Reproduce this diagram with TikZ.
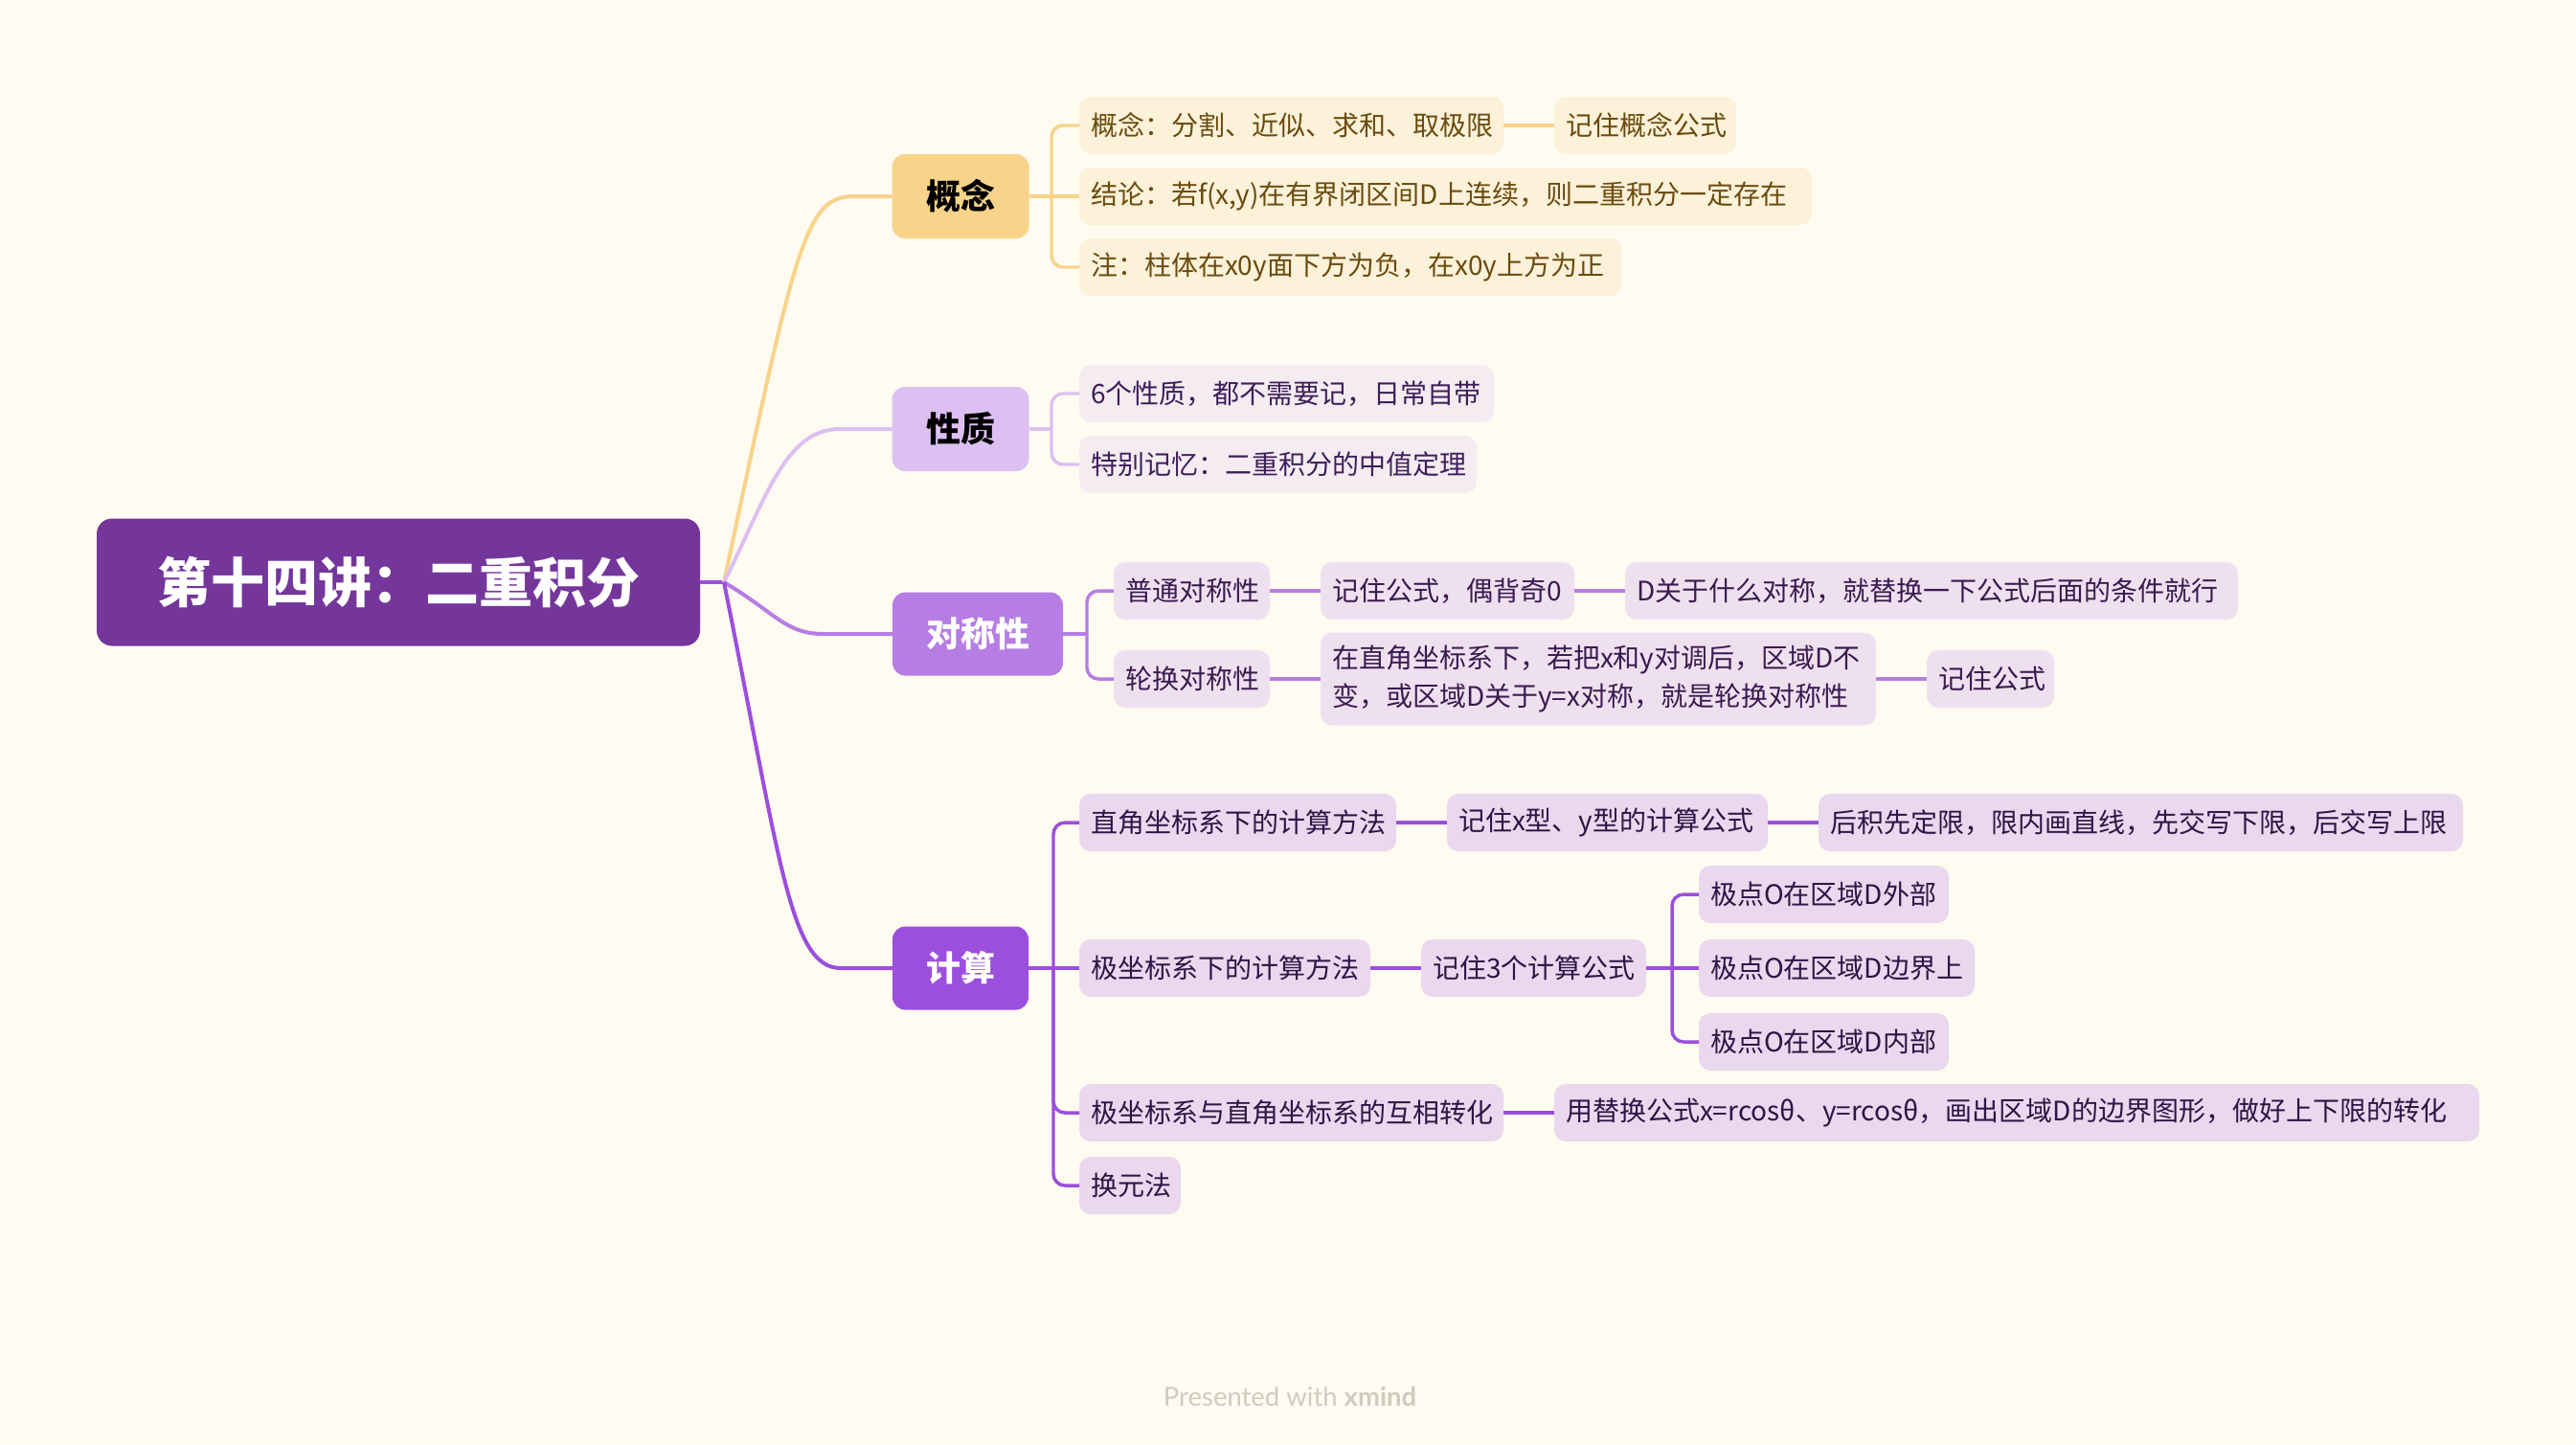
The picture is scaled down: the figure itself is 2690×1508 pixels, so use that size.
\documentclass[tikz,border=0pt]{standalone}
\usepackage{fontspec}
\setmainfont{Noto Sans CJK SC}
\newfontfamily\footfont{Lato}
\newdimen\pxu \pxu=0.375pt
\newcommand\kt[2]{\makebox[\dimexpr#1\pxu-24\pxu\relax][l]{#2}}
\definecolor{bgc}{HTML}{FFFBF0}
\definecolor{rootc}{HTML}{74369B}
\definecolor{gA}{HTML}{F8D38A}
\definecolor{gB}{HTML}{DCC0F2}
\definecolor{gC}{HTML}{B67DE5}
\definecolor{gD}{HTML}{9C4EDD}
\definecolor{kA}{HTML}{FCF1D9}
\definecolor{kB}{HTML}{F5ECF1}
\definecolor{kC}{HTML}{EFE0EF}
\definecolor{kD}{HTML}{EAD8EE}
\definecolor{tA}{HTML}{6B4B0E}
\definecolor{tB}{HTML}{3E1E5A}
\definecolor{tC}{HTML}{3A1A50}
\definecolor{tD}{HTML}{2F1446}
\definecolor{footc}{HTML}{CFCBBE}
\tikzset{
  every node/.style={inner sep=0pt, outer sep=0pt},
  rootbox/.style={fill=rootc, text=white, rounded corners=6pt, font=\bfseries\fontsize{21}{25}\selectfont},
  mainbox/.style={rounded corners=5pt, font=\bfseries\fontsize{13.5}{16}\selectfont},
  kid/.style={rounded corners=4.5pt, anchor=west, inner xsep=12\pxu, minimum height=60*\pxu, font=\fontsize{10.5}{15}\selectfont},
  kidA/.style={kid, fill=kA, text=tA},
  kidB/.style={kid, fill=kB, text=tB},
  kidC/.style={kid, fill=kC, text=tC},
  kidD/.style={kid, fill=kD, text=tD},
  bigline/.style={line width=1.5pt},
  lnA/.style={line width=1.3pt, draw=gA, rounded corners=4.5pt},
  lnB/.style={line width=1.3pt, draw=gB, rounded corners=4.5pt},
  lnC/.style={line width=1.3pt, draw=gC, rounded corners=4.5pt},
  lnD/.style={line width=1.3pt, draw=gD, rounded corners=4.5pt},
}
\begin{document}
\begin{tikzpicture}[x=0.375pt, y=-0.375pt]
\fill[bgc] (0,0) rectangle (2690,1508);
\useasboundingbox (0,0) rectangle (2690,1508);

% root and main branches
\node[rootbox, minimum width=630*\pxu, minimum height=133*\pxu] (root) at (416,608) {第十四讲：二重积分};
\node[mainbox, fill=gA, text=black, minimum width=143*\pxu, minimum height=88*\pxu] (bA) at (1003,205) {概念};
\node[mainbox, fill=gB, text=black, minimum width=143*\pxu, minimum height=88*\pxu] (bB) at (1003,448) {性质};
\node[mainbox, fill=gC, text=white, minimum width=178*\pxu, minimum height=87*\pxu] (bC) at (1021,662) {对称性};
\node[mainbox, fill=gD, text=white, minimum width=142*\pxu, minimum height=87*\pxu] (bD) at (1003,1011) {计算};

% 概念 children
\node[kidA] (a1) at (1127,131) {\kt{443}{概念：分割、近似、求和、取极限}};
\node[kidA] (a2) at (1623,131) {\kt{190}{记住概念公式}};
\node[kidA] (a3) at (1127,205) {\kt{765}{结论：若f(x,y)在有界闭区间D上连续，则二重积分一定存在}};
\node[kidA] (a4) at (1127,279) {\kt{566}{注：柱体在x0y面下方为负，在x0y上方为正}};

% 性质 children
\node[kidB] (b1) at (1127,411) {\kt{433}{6个性质，都不需要记，日常自带}};
\node[kidB] (b2) at (1127,485) {\kt{415}{特别记忆：二重积分的中值定理}};

% 对称性 children
\node[kidC] (c1) at (1163,617) {\kt{163}{普通对称性}};
\node[kidC] (c2) at (1379,617) {\kt{265}{记住公式，偶背奇0}};
\node[kidC] (c3) at (1697,617) {\kt{640}{D关于什么对称，就替换一下公式后面的条件就行}};
\node[kidC] (c4) at (1163,709) {\kt{163}{轮换对称性}};
\node[kidC, minimum height=97*\pxu, align=left] (c5) at (1379,709) {\kt{580}{在直角坐标系下，若把x和y对调后，区域D不}\\\kt{580}{变，或区域D关于y=x对称，就是轮换对称性}};
\node[kidC] (c6) at (2012,709) {\kt{133}{记住公式}};

% 计算 children
\node[kidD] (d1) at (1127,859) {\kt{331}{直角坐标系下的计算方法}};
\node[kidD] (d2) at (1511,859) {\kt{335}{记住x型、y型的计算公式}};
\node[kidD] (d3) at (1899,859) {\kt{673}{后积先定限，限内画直线，先交写下限，后交写上限}};
\node[kidD] (d4) at (1127,1011) {\kt{304}{极坐标系下的计算方法}};
\node[kidD] (d5) at (1484,1011) {\kt{235}{记住3个计算公式}};
\node[kidD] (d6) at (1774,934) {\kt{261}{极点O在区域D外部}};
\node[kidD] (d7) at (1774,1011) {\kt{288}{极点O在区域D边界上}};
\node[kidD] (d8) at (1774,1088) {\kt{261}{极点O在区域D内部}};
\node[kidD] (d9) at (1127,1162) {\kt{443}{极坐标系与直角坐标系的互相转化}};
\node[kidD] (d10) at (1623,1162) {\kt{966}{用替换公式x=rcosθ、y=rcosθ，画出区域D的边界图形，做好上下限的转化}};
\node[kidD] (d11) at (1127,1238) {\kt{106}{换元法}};

% root connectors
\coordinate (fan) at (756,608);
\draw[bigline, draw=gD] (root.east) -- (fan);
\draw[bigline, draw=gA] (fan) .. controls (830,260) and (840,205) .. (891,205) -- (bA.west);
\draw[bigline, draw=gB] (fan) .. controls (800,520) and (820,448) .. (877,448) -- (bB.west);
\draw[bigline, draw=gC] (fan) .. controls (810,640) and (820,662) .. (860,662) -- (bC.west);
\draw[bigline, draw=gD] (fan) .. controls (815,900) and (825,1011) .. (878,1011) -- (bD.west);

% 概念 connectors
\coordinate (jA) at (1098,205);
\draw[lnA] (bA.east) -- (jA);
\draw[lnA] (jA) -- (1098,131) -- (a1.west);
\draw[lnA] (jA) -- (a3.west);
\draw[lnA] (jA) -- (1098,279) -- (a4.west);
\draw[lnA] (a1.east) -- (a2.west);

% 性质 connectors
\coordinate (jB) at (1098,448);
\draw[lnB] (bB.east) -- (jB);
\draw[lnB] (jB) -- (1098,411) -- (b1.west);
\draw[lnB] (jB) -- (1098,485) -- (b2.west);

% 对称性 connectors
\coordinate (jC) at (1135,662);
\draw[lnC] (bC.east) -- (jC);
\draw[lnC] (jC) -- (1135,617) -- (c1.west);
\draw[lnC] (jC) -- (1135,709) -- (c4.west);
\draw[lnC] (c1.east) -- (c2.west);
\draw[lnC] (c2.east) -- (c3.west);
\draw[lnC] (c4.east) -- (c5.west);
\draw[lnC] (c5.east) -- (c6.west);

% 计算 connectors
\coordinate (jD) at (1100,1011);
\draw[lnD] (bD.east) -- (jD);
\draw[lnD] (jD) -- (1100,859) -- (d1.west);
\draw[lnD] (jD) -- (d4.west);
\draw[lnD] (jD) -- (1100,1162) -- (d9.west);
\draw[lnD] (jD) -- (1100,1238) -- (d11.west);
\draw[lnD] (d1.east) -- (d2.west);
\draw[lnD] (d2.east) -- (d3.west);
\draw[lnD] (d4.east) -- (d5.west);
\draw[lnD] (d9.east) -- (d10.west);
\coordinate (jE) at (1746,1011);
\draw[lnD] (d5.east) -- (jE);
\draw[lnD] (jE) -- (1746,934) -- (d6.west);
\draw[lnD] (jE) -- (d7.west);
\draw[lnD] (jE) -- (1746,1088) -- (d8.west);

% footer
\node[font=\footfont\fontsize{10.3}{12}\selectfont, text=footc] (foot) at (1347,1458) {Presented with \textbf{xmind}};
\end{tikzpicture}
\end{document}
